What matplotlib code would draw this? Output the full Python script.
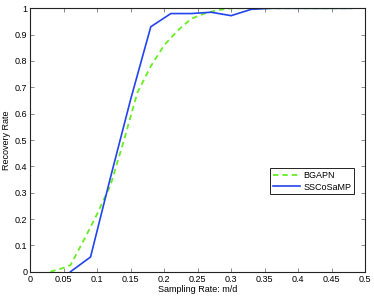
import matplotlib
matplotlib.use("Agg")
import matplotlib.pyplot as plt

# sampling rates m/d
x_bgapn = [0.03, 0.05, 0.06, 0.08, 0.10, 0.12, 0.14, 0.16, 0.18, 0.20, 0.22, 0.24,
           0.26, 0.28, 0.30, 0.33, 0.36, 0.39, 0.42, 0.45, 0.48]
y_bgapn = [0.0, 0.015, 0.025, 0.12, 0.22, 0.33, 0.50, 0.68, 0.78, 0.86, 0.915, 0.96,
           0.98, 0.993, 1.0, 1.0, 1.0, 1.0, 1.0, 1.0, 1.0]

x_ssc = [0.06, 0.09, 0.12, 0.15, 0.18, 0.21, 0.24, 0.27, 0.30, 0.33, 0.36, 0.39,
         0.42, 0.45, 0.48]
y_ssc = [0.0, 0.056, 0.36, 0.655, 0.93, 0.98, 0.98, 0.985, 0.972, 0.996, 1.0, 1.0,
         1.0, 1.0, 1.0]

xticks = [0, 0.05, 0.1, 0.15, 0.2, 0.25, 0.3, 0.35, 0.4, 0.45, 0.5]
xticklabels = ["0", "0.05", "0.1", "0.15", "0.2", "0.25", "0.3", "0.35", "0.4", "0.45", "0.5"]
yticks = [0, 0.1, 0.2, 0.3, 0.4, 0.5, 0.6, 0.7, 0.8, 0.9, 1]
yticklabels = ["0", "0.1", "0.2", "0.3", "0.4", "0.5", "0.6", "0.7", "0.8", "0.9", "1"]

plt.rcParams['font.family'] = ['Liberation Sans', 'DejaVu Sans']
fig = plt.figure(figsize=(3.74, 2.96), dpi=100)
ax = fig.add_axes([0.081, 0.082, 0.895, 0.89])

ax.plot(x_bgapn, y_bgapn, '--', color='#66ee22', lw=1.3, dashes=(3, 2.2), label='BGAPN')
ax.plot(x_ssc, y_ssc, '-', color='#2244ee', lw=1.2, label='SSCoSaMP')

ax.set_xlim(0, 0.5)
ax.set_ylim(0, 1)
ax.set_xticks(xticks)
ax.set_xticklabels(xticklabels)
ax.set_yticks(yticks)
ax.set_yticklabels(yticklabels)
ax.tick_params(direction='in', top=True, right=True, labelsize=6.5, length=3,
               width=0.6, color='#777777', pad=2)
for s in ax.spines.values():
    s.set_linewidth(0.8)
    s.set_color('#222222')

ax.set_xlabel('Sampling Rate: m/d', fontsize=6.5, labelpad=1)
ax.set_ylabel('Recovery Rate', fontsize=6.5, labelpad=3)

leg = ax.legend(loc='upper left', bbox_to_anchor=(0.703, 0.41), fontsize=6.5,
                fancybox=False, framealpha=1, edgecolor='#222222',
                handlelength=3, borderpad=0.3, labelspacing=0.3, handletextpad=0.4)
leg.get_frame().set_linewidth(0.7)

fig.savefig('out.png', dpi=100)
